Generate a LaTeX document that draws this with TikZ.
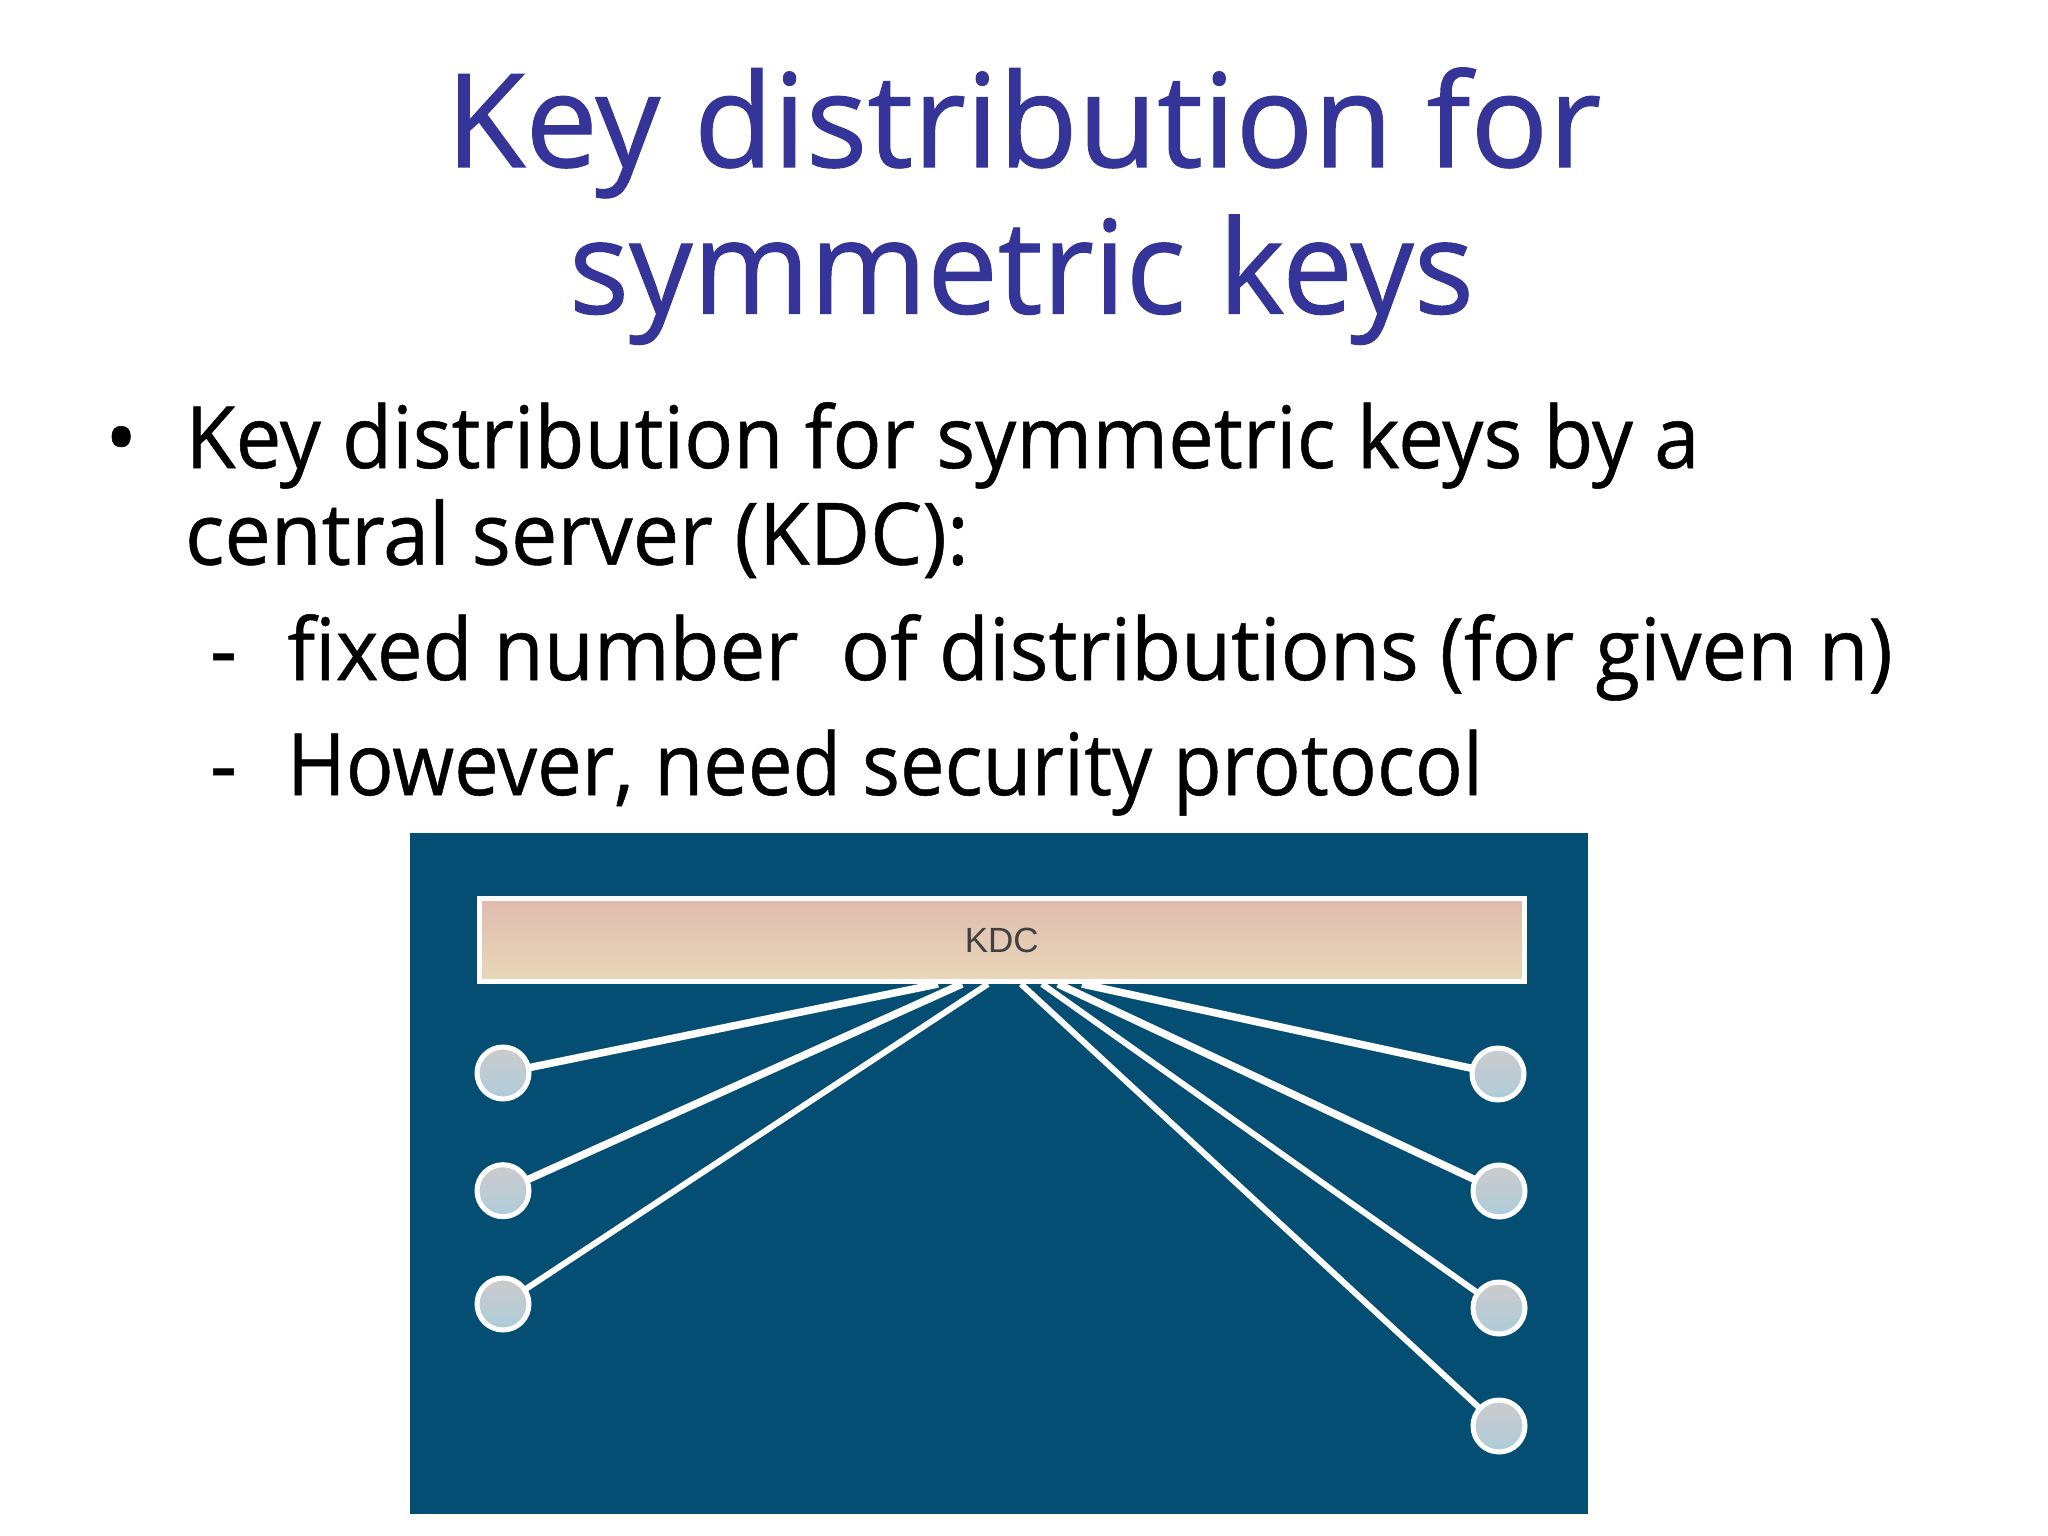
\documentclass[tikz,border=0pt]{standalone}
\usepackage{fontspec}
\usepackage{graphicx}
\setmainfont{Open Sans}[FakeBold=0.6]
\newfontfamily\kdcfont{Liberation Sans}
\definecolor{titleblue}{HTML}{343499}
\definecolor{panelblue}{HTML}{034E72}
\definecolor{kdctop}{HTML}{E0BBAE}
\definecolor{kdcbot}{HTML}{E8D8BA}
\definecolor{stationtop}{HTML}{CCCBCB}
\definecolor{stationbot}{HTML}{AECCDB}
\newcommand{\fitw}[2]{\resizebox{#1pt}{\height}{#2}}
\tikzset{
  titleline/.style={anchor=base west,inner sep=0pt,outer sep=0pt,text=titleblue,font=\fontsize{130}{130}\selectfont\addfontfeature{FakeBold=0.8}},
  bodyline/.style={anchor=base west,inner sep=0pt,outer sep=0pt,text=black,font=\fontsize{86}{86}\selectfont\addfontfeature{FakeBold=0.6}},
  panel/.style={fill=panelblue,draw=none,inner sep=0pt,outer sep=0pt,minimum width=1178pt,minimum height=681pt},
  kdcbox/.style={draw=white,line width=4.5pt,top color=kdctop,bottom color=kdcbot,inner sep=0pt,outer sep=0pt,minimum width=1045pt,minimum height=83pt,text=black!75,font=\kdcfont\fontsize{35}{35}\selectfont},
  station/.style={circle,draw=white,line width=5pt,top color=stationtop,bottom color=stationbot,inner sep=0pt,outer sep=0pt,minimum size=52pt},
  link/.style={draw=white,line width=7.5pt},
  link2/.style={draw=white,line width=6pt}
}
\begin{document}
\begin{tikzpicture}[x=1pt,y=-1pt]
\useasboundingbox[fill=white] (0,0) rectangle (2048,1536);
\node[titleline] (t1) at (446,167) {\fitw{1155}{Key distribution for}};
\node[titleline] (t2) at (569,313.5) {\fitw{905}{symmetric keys}};
\node[bodyline] (bullet) at (105,468) {•};
\node[bodyline] (b1) at (185.5,468) {\fitw{1514}{Key distribution for symmetric keys by a}};
\node[bodyline] (b2) at (185,564.6) {\fitw{784}{central server (KDC):}};
\node[bodyline] (d3) at (210,680) {\fitw{27}{-}};
\node[bodyline] (b3) at (287.5,680) {\fitw{1605}{fixed number\ \ of distributions (for given n)}};
\node[bodyline] (d4) at (210,795) {\fitw{27}{-}};
\node[bodyline] (b4) at (287,795) {\fitw{1196}{However, need security protocol}};
\node[panel] (p) at (999,1173) {};
\node[kdcbox] (kdc) at (1001.8,940) {KDC};
\node[station] (l1) at (503,1073) {};
\node[station] (l2) at (503,1190.7) {};
\node[station] (l3) at (503,1304) {};
\node[station] (r1) at (1498,1074) {};
\node[station] (r2) at (1499,1191) {};
\node[station] (r3) at (1499,1308) {};
\node[station] (r4) at (1499,1426) {};
\coordinate (al1) at (938,984);
\coordinate (al2) at (962,984);
\coordinate (al3) at (988,984);
\coordinate (ar4) at (1021,984);
\coordinate (ar3) at (1042,984);
\coordinate (ar2) at (1058,984);
\coordinate (ar1) at (1082,984);
\draw[link] (l1) -- (al1);
\draw[link] (l2) -- (al2);
\draw[link2] (l3) -- (al3);
\draw[link] (r1) -- (ar1);
\draw[link] (r2) -- (ar2);
\draw[link2] (r3) -- (ar3);
\draw[link2] (r4) -- (ar4);
\end{tikzpicture}
\end{document}
